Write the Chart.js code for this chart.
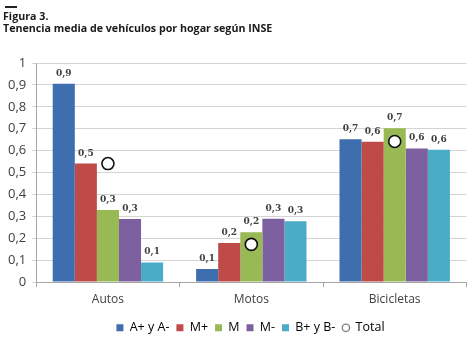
<!DOCTYPE html>
<html>
<head>
<meta charset="utf-8">
<script src="https://cdn.jsdelivr.net/npm/chart.js@4"></script>
<style>
  html, body { margin: 0; padding: 0; background: #fff; }
  #wrap { position: relative; width: 474px; height: 341px; }
  #chart { position: absolute; left: 0; top: 0; }
  .dash { position: absolute; left: 5px; top: 6px; width: 12px; height: 2px; background: #222; }
  .ttl { position: absolute; left: 3px; font: bold 10.7px "Open Sans", sans-serif; color: #1a1a1a; white-space: nowrap; }
</style>
</head>
<body>
<div id="wrap">
  <canvas id="chart" width="474" height="341"></canvas>
  <div class="dash"></div>
  <div class="ttl" style="top:9px">Figura 3.</div>
  <div class="ttl" style="top:21px">Tenencia media de vehículos por hogar según INSE</div>
</div>
<script>
// chart data
const categories = ["Autos", "Motos", "Bicicletas"];
const seriesNames = ["A+ y A-", "M+", "M", "M-", "B+ y B-"];
const seriesColors = ["#3e6ead", "#be4b48", "#98b954", "#7d60a0", "#4aacc6"];
const valsAA = [0.905, 0.06, 0.652];
const valsMplus = [0.541, 0.179, 0.641];
const valsM = [0.329, 0.228, 0.702];
const valsMminus = [0.288, 0.289, 0.61];
const valsBB = [0.09, 0.278, 0.604];
const totals = [0.541, 0.172, 0.642];
const yTicks = [0, 0.1, 0.2, 0.3, 0.4, 0.5, 0.6, 0.7, 0.8, 0.9, 1];

const seriesVals = [valsAA, valsMplus, valsM, valsMminus, valsBB];

function fmt(v){
  return Number(v.toFixed(1)).toString().replace(".", ",");
}

// small hollow circle for the "Total" legend entry
const legendDot = document.createElement("canvas");
legendDot.width = 10;
legendDot.height = 10;
(function(){
  let c = legendDot.getContext("2d");
  c.beginPath();
  c.arc(5, 5, 3.8, 0, Math.PI * 2);
  c.fillStyle = "#fff";
  c.fill();
  c.lineWidth = 1;
  c.strokeStyle = "#555";
  c.stroke();
})();

// value labels above each bar
const barLabels = {
  id: "barLabels",
  afterDatasetsDraw(chart){
    let ctx = chart.ctx;
    ctx.save();
    ctx.font = "bold 9px 'DejaVu Serif', serif";
    ctx.fillStyle = "#404040";
    ctx.textAlign = "center";
    ctx.textBaseline = "alphabetic";
    chart.data.datasets.forEach((ds, i)=>{
      if(ds.type === "line") return;
      chart.getDatasetMeta(i).data.forEach((bar, j)=>{
        ctx.fillText(fmt(ds.data[j]), bar.x, bar.y - 8);
      });
    });
    ctx.restore();
  }
};

// legend sits a bit right of the canvas centre and lower in the original
const legendShift = {
  id: "legendShift",
  afterLayout(chart){
    if(!chart.legend) return;
    chart.legend.left += 26;
    chart.legend.top += 3;
    chart.legend.bottom += 3;
  }
};

Chart.defaults.font.family = "'Open Sans', sans-serif";
Chart.defaults.color = "#404040";

let datasets = seriesNames.map((name, i)=>({
  label: name,
  data: seriesVals[i],
  backgroundColor: seriesColors[i],
  categoryPercentage: 0.77,
  barPercentage: 1.0,
  order: 1
}));
datasets.push({
  type: "line",
  label: "Total",
  data: totals,
  showLine: false,
  pointRadius: 6,
  pointBorderWidth: 1.6,
  pointBorderColor: "#111",
  pointBackgroundColor: "#fff",
  order: 0
});

new Chart(document.getElementById("chart").getContext("2d"), {
  type: "bar",
  data: { labels: categories, datasets: datasets },
  options: {
    responsive: false,
    animation: false,
    layout: { padding: { top: 63, left: 2, right: 1, bottom: 0 } },
    plugins: {
      tooltip: { enabled: false },
      legend: {
        position: "bottom",
        labels: {
          font: { size: 12.5 },
          color: "#404040",
          usePointStyle: true,
          boxWidth: 7,
          boxHeight: 7,
          padding: 7,
          generateLabels(chart){
            return chart.data.datasets.map((ds, i)=>({
              text: ds.label,
              fillStyle: ds.type === "line" ? "#fff" : ds.backgroundColor,
              strokeStyle: ds.type === "line" ? "#555" : ds.backgroundColor,
              lineWidth: ds.type === "line" ? 1 : 0,
              pointStyle: ds.type === "line" ? legendDot : "rect",
              datasetIndex: i
            }));
          }
        }
      }
    },
    scales: {
      x: {
        grid: { drawOnChartArea: false, drawTicks: true, tickLength: 5, color: "#a6a6a6", offset: true },
        border: { color: "#a6a6a6" },
        ticks: { font: { size: 12 }, color: "#404040", padding: 5 }
      },
      y: {
        min: 0,
        max: 1,
        afterBuildTicks(axis){ axis.ticks = yTicks.map((v)=>({ value: v })); },
        grid: { color: "#d4d4d4", tickLength: 4 },
        border: { color: "#a6a6a6" },
        ticks: { font: { size: 13 }, color: "#404040", padding: 6, callback: (v)=>fmt(v) }
      }
    }
  },
  plugins: [barLabels, legendShift]
});
</script>
</body>
</html>
